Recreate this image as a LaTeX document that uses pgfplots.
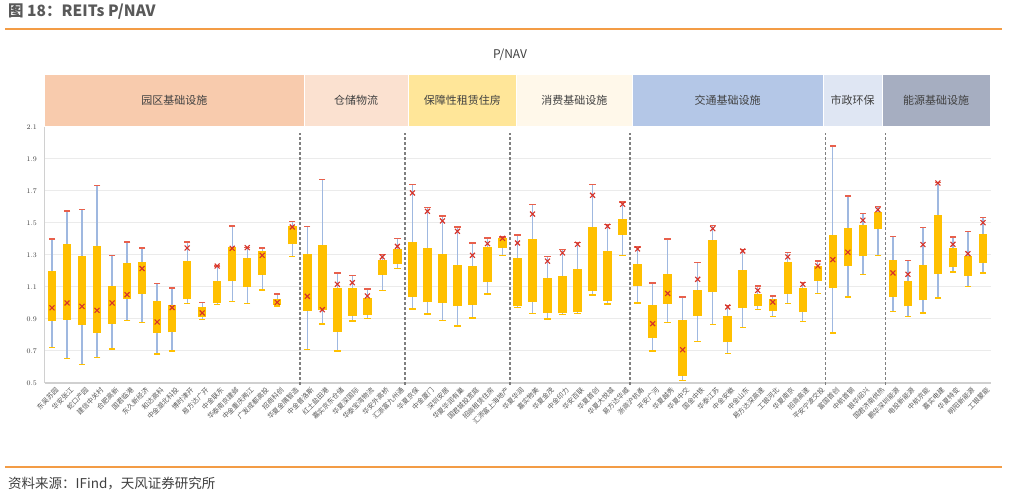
\documentclass[border=0pt]{standalone}
\usepackage{fontspec}
\setmainfont{Noto Sans CJK SC}
\usepackage{pgfplots}
\pgfplotsset{compat=1.18}
\usepackage{pgfplotstable}

\definecolor{boxc}{HTML}{FFC000}
\definecolor{whisk}{HTML}{9FB8E0}
\definecolor{capred}{HTML}{E8604C}
\definecolor{capor}{HTML}{FFC000}
\definecolor{curred}{HTML}{D6332A}
\definecolor{gridc}{HTML}{EBEBEB}
\definecolor{axisc}{HTML}{D0D0D0}
\definecolor{sepc}{HTML}{7F7F7F}
\definecolor{orline}{HTML}{F39C45}
\definecolor{txtc}{HTML}{404040}
\definecolor{titc}{HTML}{595959}
\definecolor{bandA}{HTML}{F8CBAD}
\definecolor{bandB}{HTML}{FBE1D0}
\definecolor{bandC}{HTML}{FFE699}
\definecolor{bandD}{HTML}{FFF8EA}
\definecolor{bandE}{HTML}{B4C7E7}
\definecolor{bandF}{HTML}{DFE6F3}
\definecolor{bandG}{HTML}{A6AEC1}

% x lo q1 q3 hi cur
\pgfplotstableread{
x lo q1 q3 hi cur
0 0.72 0.89 1.20 1.40 0.97
1 0.654 0.896 1.37 1.575 1.00
2 0.615 0.863 1.296 1.585 0.979
3 0.658 0.815 1.354 1.735 0.954
4 0.713 0.869 1.106 1.298 1.00
5 0.89 1.027 1.252 1.381 1.052
6 0.879 1.056 1.256 1.344 1.215
7 0.681 0.813 1.01 1.123 0.881
8 0.70 0.817 0.99 1.094 0.971
9 0.996 1.023 1.26 1.381 1.344
10 0.896 0.913 0.973 1.004 0.938
11 0.99 1.00 1.14 1.231 1.231
12 1.008 1.135 1.35 1.481 1.342
13 0.996 1.10 1.279 1.348 1.346
14 1.081 1.177 1.327 1.344 1.298
15 0.981 0.99 1.023 1.056 1.004
16 1.292 1.367 1.483 1.508 1.475
17 0.708 0.95 1.304 1.479 1.042
18 0.869 0.954 1.36 1.773 0.958
19 0.70 0.821 1.094 1.188 1.117
20 0.888 0.919 1.094 1.173 1.127
21 0.904 0.925 1.031 1.088 1.044
22 1.077 1.177 1.271 1.304 1.288
23 1.217 1.244 1.34 1.402 1.354
24 0.963 1.037 1.383 1.742 1.688
25 0.931 1.004 1.346 1.598 1.573
26 0.892 1.00 1.308 1.544 1.513
27 0.856 0.981 1.24 1.475 1.448
28 0.906 0.99 1.229 1.375 1.298
29 1.056 1.129 1.352 1.406 1.371
30 1.298 1.346 1.408 1.412 1.404
31 0.971 0.981 1.281 1.425 1.375
32 0.933 1.006 1.398 1.617 1.556
33 0.90 0.94 1.158 1.292 1.262
34 0.928 0.935 1.169 1.335 1.313
35 0.933 0.942 1.215 1.377 1.367
36 1.05 1.075 1.475 1.742 1.673
37 0.994 1.0125 1.325 1.492 1.479
38 1.298 1.425 1.527 1.631 1.617
39 1.00 1.108 1.242 1.35 1.338
40 0.70 0.781 0.985 1.125 0.871
41 0.879 0.996 1.183 1.40 1.06
42 0.517 0.546 0.894 1.0375 0.708
43 0.758 0.921 1.081 1.252 1.148
44 0.867 1.067 1.392 1.485 1.465
45 0.683 0.754 0.919 0.985 0.975
46 0.848 0.971 1.204 1.335 1.325
47 0.958 0.981 1.056 1.106 1.079
48 0.915 0.948 1.025 1.044 1.006
49 0.996 1.058 1.256 1.315 1.288
50 0.883 0.942 1.094 1.129 1.117
51 1.06 1.14 1.229 1.263 1.231
52 0.8125 1.092 1.427 1.981 1.271
53 1.0375 1.231 1.469 1.669 1.317
54 1.177 1.292 1.485 1.558 1.517
55 1.298 1.46 1.571 1.602 1.583
56 0.948 1.0375 1.271 1.415 1.188
57 0.917 0.979 1.14 1.265 1.179
58 0.9375 1.017 1.24 1.471 1.365
59 1.031 1.183 1.552 1.752 1.75
60 1.194 1.223 1.344 1.412 1.367
61 1.102 1.171 1.292 1.448 1.308
62 1.1875 1.25 1.433 1.533 1.502
}\pnav

\begin{document}
\begin{tikzpicture}
\useasboundingbox (0,0) rectangle (1010pt,497pt);
\fill[white] (0,0) rectangle (1010pt,497pt);

\node[anchor=west, inner sep=0pt, text=titc, font=\fontsize{15.5}{17}\selectfont\bfseries] at (8pt,485pt) {图\ 18：REITs P/NAV};
\draw[orline, line width=1.5pt] (5pt,468pt) -- (1002pt,468pt);
\draw[orline, line width=1.5pt] (5pt,30pt) -- (1002pt,30pt);
\node[anchor=west, inner sep=0pt, text=txtc, font=\fontsize{13.5}{15}\selectfont] at (8pt,13pt) {资料来源：IFind，天风证券研究所};
\node[text=txtc, font=\fontsize{12}{13}\selectfont] at (510pt,442pt) {P/NAV};

\begin{axis}[
    at={(44.5pt,114pt)}, anchor=south west,
    scale only axis, width=946pt, height=256pt,
    xmin=-0.5, xmax=62.5, ymin=0.5, ymax=2.1,
    clip=false,
    axis x line*=bottom, axis y line*=left,
    axis line style={draw=axisc, line width=1.2pt},
    major tick length=0pt,
    ymajorgrids, grid style={gridc, line width=1pt},
    ytick={0.5,0.7,0.9,1.1,1.3,1.5,1.7,1.9,2.1},
    yticklabel style={font=\fontsize{7}{8}\selectfont, text=txtc, xshift=-4pt,
        /pgf/number format/.cd, fixed, fixed zerofill, precision=1},
    xtick={0,...,62},
    xticklabels={东吴苏园,华安张江,蛇口产园,建信中关村,合肥高新,国君临港,东久新经济,和达高科,中金湖北科投,博时津开,易方达广开,中金联东,华泰南京建邺,中金重庆两江,广发成都高投,招商科创,华夏金隅智造,中金普洛斯,红土盐田港,嘉实京东仓储,华夏深国际,华泰宝湾物流,华安外高桥,汇添富九州通,华夏京保,中金厦门,深圳安居,华夏华润有巢,国君城投宽庭,招商租赁住房,汇添富上海地产,华夏华润,嘉实物美,华夏金茂,中金印力,华安百联,华夏首创,华夏大悦城,易方达华威,浙商沪杭甬,平安广河,华夏越秀,华夏中交,国金中铁,华泰江苏,中金安徽,中金山东,易方达深高速,工银河北,华夏南京,招商高速,平安宁波交投,富国首创,中航首钢,银华绍兴,国君济南供热,鹏华深圳能源,电投新能源,中航京能,嘉实电建,华夏特变,明阳新能源,工银蒙能},
    xticklabel style={rotate=45, anchor=east, inner sep=0.5pt, yshift=-8pt, xshift=0pt,
        font=\fontsize{6.8}{7}\selectfont, text=titc},
]
% whiskers
\addplot[only marks, mark size=0pt, mark options={draw=none, fill=none}, forget plot,
    error bars/.cd, y dir=plus, y explicit, error mark=none,
    error bar style={draw=whisk, line width=1.3pt}]
    table[x=x, y=lo, y error plus expr=\thisrow{hi}-\thisrow{lo}] {\pnav};
% boxes
\addplot[only marks, mark size=0pt, mark options={draw=none, fill=none}, forget plot,
    error bars/.cd, y dir=plus, y explicit, error mark=none,
    error bar style={draw=boxc, line width=8.5pt}]
    table[x=x, y=q1, y error plus expr=\thisrow{q3}-\thisrow{q1}] {\pnav};
% caps
\addplot[only marks, mark=-, mark size=3.2pt, mark options={capred, line width=1.4pt}]
    table[x=x, y=hi] {\pnav};
\addplot[only marks, mark=-, mark size=3.2pt, mark options={capor, line width=1.4pt}]
    table[x=x, y=lo] {\pnav};
% current value
\addplot[only marks, mark=x, mark size=3.5pt, mark options={curred, line width=1.1pt}]
    table[x=x, y=cur] {\pnav};

% separators
\draw[sepc, line width=1.6pt, dash pattern=on 3pt off 2pt] (16.5,0.49) -- (16.5,2.06);
\draw[sepc, line width=1.6pt, dash pattern=on 3pt off 2pt] (23.5,0.49) -- (23.5,2.06);
\draw[sepc, line width=1.6pt, dash pattern=on 3pt off 2pt] (30.5,0.49) -- (30.5,2.06);
\draw[sepc, line width=1.6pt, dash pattern=on 3pt off 2pt] (38.5,0.49) -- (38.5,2.06);
\draw[sepc, line width=1.6pt, dash pattern=on 3pt off 2pt] (51.5,0.49) -- (51.5,2.06);
\draw[sepc, line width=1.6pt, dash pattern=on 3pt off 2pt] (55.5,0.49) -- (55.5,2.06);
% category bands
\fill[bandA, draw=white, line width=0.6pt] (-0.5,2.106) rectangle (16.8,2.431);
\fill[bandB, draw=white, line width=0.6pt] (16.8,2.106) rectangle (23.7,2.431);
\fill[bandC, draw=white, line width=0.6pt] (23.7,2.106) rectangle (30.95,2.431);
\fill[bandD, draw=white, line width=0.6pt] (30.95,2.106) rectangle (38.62,2.431);
\fill[bandE, draw=white, line width=0.6pt] (38.62,2.106) rectangle (51.35,2.431);
\fill[bandF, draw=white, line width=0.6pt] (51.35,2.106) rectangle (55.27,2.431);
\fill[bandG, draw=white, line width=0.6pt] (55.27,2.106) rectangle (62.5,2.431);
\node[text=txtc, font=\fontsize{11}{12}\selectfont] at (8.15,2.269) {园区基础设施};
\node[text=txtc, font=\fontsize{11}{12}\selectfont] at (20.25,2.269) {仓储物流};
\node[text=txtc, font=\fontsize{11}{12}\selectfont] at (27.325,2.269) {保障性租赁住房};
\node[text=txtc, font=\fontsize{11}{12}\selectfont] at (34.785,2.269) {消费基础设施};
\node[text=txtc, font=\fontsize{11}{12}\selectfont] at (44.985,2.269) {交通基础设施};
\node[text=txtc, font=\fontsize{11}{12}\selectfont] at (53.31,2.269) {市政环保};
\node[text=txtc, font=\fontsize{11}{12}\selectfont] at (58.885,2.269) {能源基础设施};
\end{axis}
\end{tikzpicture}
\end{document}
